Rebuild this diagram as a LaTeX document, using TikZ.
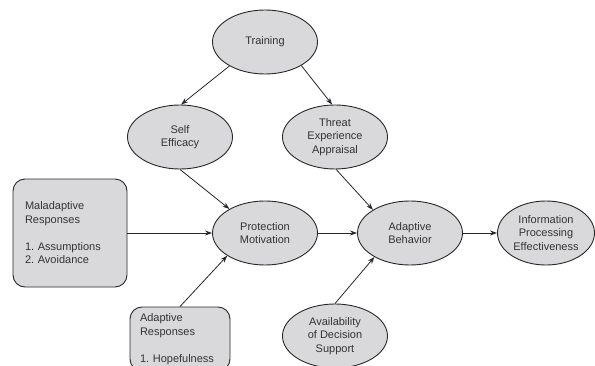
\documentclass[tikz,border=0pt]{standalone}
\usepackage{fontspec}
\setmainfont{Liberation Sans}
\usetikzlibrary{shapes.geometric,arrows.meta}
\definecolor{bubble}{RGB}{217,217,220}
\definecolor{edge}{RGB}{40,40,40}
\frenchspacing
\begin{document}
\begin{tikzpicture}[x=1pt,y=1pt,
  oval/.style={ellipse,draw=edge,line width=.9pt,fill=bubble,
    minimum width=105pt,minimum height=64pt,inner sep=0pt,
    align=center,text=black!80,font=\fontsize{11}{13.5}\selectfont},
  box/.style={rectangle,rounded corners=12pt,draw=edge,line width=.9pt,
    fill=bubble,align=left,text=black!80,font=\fontsize{11}{13.5}\selectfont},
  link/.style={draw=edge,line width=.8pt,-{Stealth[length=7pt,width=5pt]}}]
\useasboundingbox (0,0) rectangle (595,365);
\clip (0,0) rectangle (595,365);
\node[oval] (train) at (265,323) {Training};
\node[oval] (self) at (180,228) {Self\\Efficacy};
\node[oval] (threat) at (335,228) {Threat\\Experience\\Appraisal};
\node[oval] (prot) at (265,132) {Protection\\Motivation};
\node[oval] (adapt) at (410,132) {Adaptive\\Behavior};
\node[oval,minimum width=97pt] (info) at (546,132) {Information\\Processing\\Effectiveness};
\node[oval] (avail) at (335,29) {Availability\\of Decision\\Support};
\node[box,minimum width=114pt,minimum height=108pt,text width=90pt,inner xsep=12pt]
  (maladapt) at (70,132) {Maladaptive\\Responses\\[13.5pt]1. Assumptions\\2. Avoidance};
\node[box,minimum width=100pt,minimum height=64pt,text width=80pt,inner xsep=10pt]
  (adaptresp) at (180,26) {Adaptive\\Responses\\[13.5pt]1. Hopefulness};

\draw[link] (train.214) -- (self.88);
\draw[link] (train.327) -- (threat.95);
\draw[link] (self.south) -- (prot.146);
\draw[link] (threat.272) -- (adapt.148);
\draw[link] (maladapt.east) -- (prot.west);
\draw[link] (adaptresp.north) -- (prot.211);
\draw[link] (prot.east) -- (adapt.west);
\draw[link] (avail.north) -- (adapt.214);
\draw[link] (adapt.east) -- (info.west);
\end{tikzpicture}
\end{document}
